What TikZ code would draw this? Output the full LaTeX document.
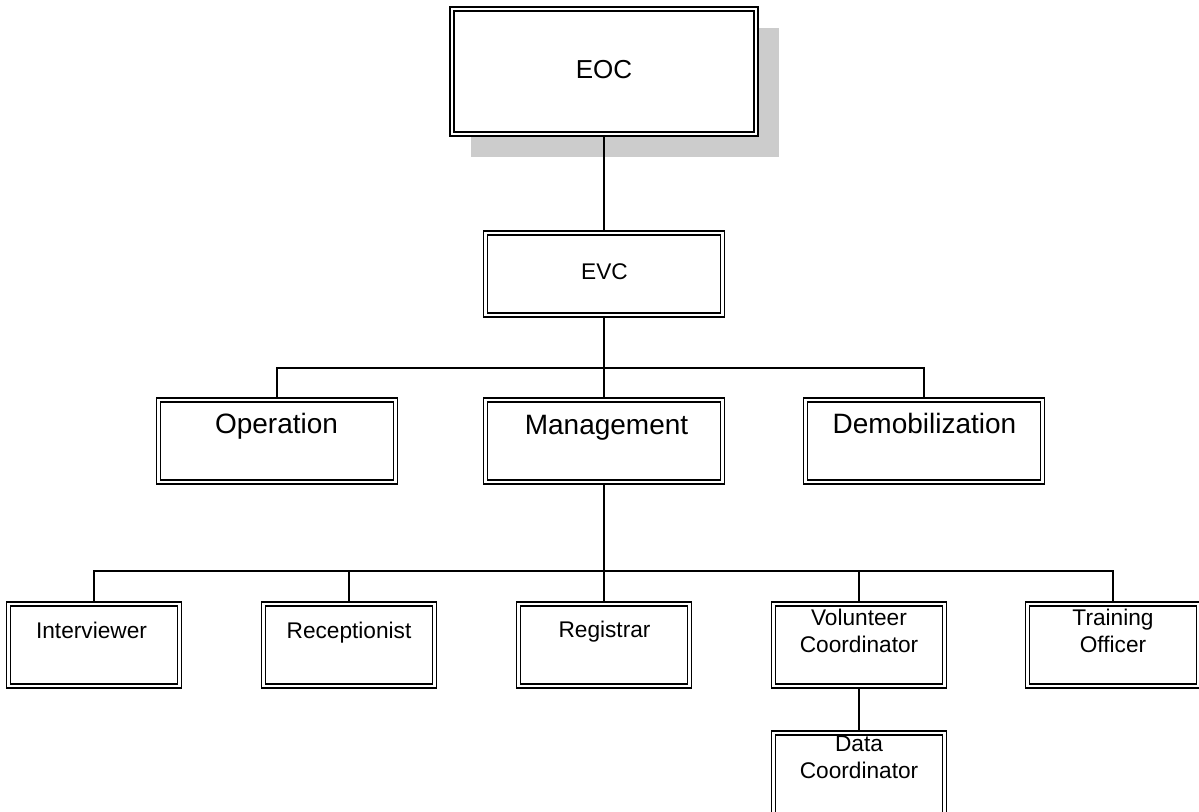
\documentclass[tikz,border=0pt]{standalone}
\usepackage{fontspec}
\setmainfont{Liberation Sans}
\usetikzlibrary{backgrounds}

\tikzset{
  unitbox/.style={draw=black, fill=white, double=white, line width=1.1pt,
    double distance=1.9pt, inner sep=0pt, outer sep=0pt},
  topbox/.style={unitbox, minimum width=228pt, minimum height=93.75pt},
  midbox/.style={unitbox, minimum width=177.75pt, minimum height=61.5pt},
  lowbox/.style={unitbox, minimum width=128.25pt, minimum height=61.5pt},
  wire/.style={draw=black, line width=1.4pt},
  shade/.style={fill=black!20, draw=none},
  bigtxt/.style={anchor=base, inner sep=0pt, font=\fontsize{19.5}{23}\selectfont},
  evctxt/.style={anchor=base, inner sep=0pt, font=\fontsize{17}{20}\selectfont},
  midtxt/.style={anchor=base, inner sep=0pt, font=\fontsize{21}{25}\selectfont},
  lowtxt/.style={anchor=base, inner sep=0pt, align=center,
    font=\fontsize{17}{20.25}\selectfont},
}

\begin{document}
\begin{tikzpicture}[x=0.75pt, y=-0.75pt]
\useasboundingbox (0,0) rectangle (1199,812);

% boxes
\node[topbox] (eoc)  at (604,71.5) {};
\node[midbox] (evc)  at (604,274) {};
\node[midbox] (op)   at (277,441) {};
\node[midbox] (mgmt) at (604,441) {};
\node[midbox] (dem)  at (924,441) {};
\node[lowbox] (int)  at (94,645) {};
\node[lowbox] (rec)  at (349,645) {};
\node[lowbox] (reg)  at (604,645) {};
\node[lowbox] (vol)  at (859,645) {};
\node[lowbox] (trn)  at (1113,645) {};
\node[lowbox] (dat)  at (859,774) {};

% bus bars
\coordinate (bus1) at (604,368);
\coordinate (bus2) at (604,571);

\begin{scope}[on background layer]
  % drop shadow behind the top box
  \fill[shade] (471,28) rectangle (779,157);
  % connectors
  \draw[wire] (eoc.south) -- (evc.north);
  \draw[wire] (evc.south) -- (mgmt.north);
  \draw[wire] (op.north) -- (op.north |- bus1) -- (dem.north |- bus1) -- (dem.north);
  \draw[wire] (mgmt.south) -- (reg.north);
  \draw[wire] (int.north) -- (int.north |- bus2) -- (trn.north |- bus2) -- (trn.north);
  \draw[wire] (rec.north) -- (rec.north |- bus2);
  \draw[wire] (vol.north) -- (vol.north |- bus2);
  \draw[wire] (vol.south) -- (dat.north);
\end{scope}

% labels
\node[bigtxt] (t-eoc)  at (604,79)   {EOC};
\node[evctxt] (t-evc)  at (604.5,280) {EVC};
\node[midtxt] (t-op)   at (276.5,434) {Operation};
\node[midtxt] (t-mgmt) at (606.5,435) {Management};
\node[midtxt] (t-dem)  at (924.5,434) {Demobilization};
\node[lowtxt] (t-int)  at (91.5,638)  {Interviewer};
\node[lowtxt] (t-rec)  at (349,638)   {Receptionist};
\node[lowtxt] (t-reg)  at (604.5,637) {Registrar};
\node[lowtxt] (t-vol)  at (859,652)   {Volunteer\\Coordinator};
\node[lowtxt] (t-trn)  at (1113,652)  {Training\\Officer};
\node[lowtxt] (t-dat)  at (859,778)   {Data\\Coordinator};
\end{tikzpicture}
\end{document}
